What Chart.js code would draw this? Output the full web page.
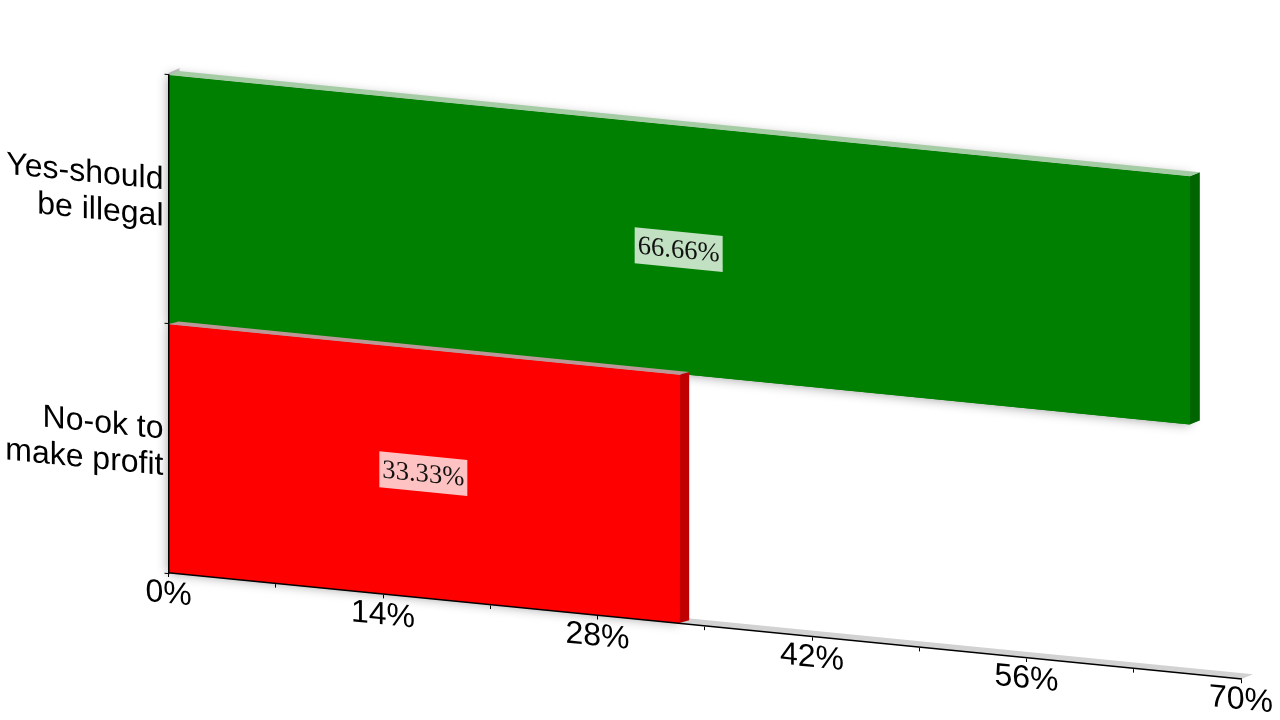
<!DOCTYPE html>
<html><head><meta charset="utf-8">
<style>html,body{margin:0;padding:0;background:#fff}canvas{display:block}</style>
<script src="https://cdn.jsdelivr.net/npm/chart.js@4/dist/chart.umd.min.js"></script>
</head><body><canvas id="c" width="1280" height="720"></canvas>
<script>
const categories = [['Yes-should','be illegal'],['No-ok to','make profit']];
const shares = [66.66, 33.33];
const frontColors = ['#008000','#ff0000'];
const sideColors = ['#006400','#c00000'];
const topColors = ['#a6cca6','#bd9797'];
const labelledTicks = [0,14,28,42,56,70];
const markedTicks = [0,7,14,21,28,35,42,49,56,63,70];

const SHEAR = 0.099, ORIGIN_X = 168;
const depth = (dx, dyScreen) => [dx, dyScreen - SHEAR * dx];

function poly(ctx, pts, fill){
  ctx.beginPath();
  pts.forEach((p,i)=> i ? ctx.lineTo(p[0],p[1]) : ctx.moveTo(p[0],p[1]));
  ctx.closePath(); ctx.fillStyle = fill; ctx.fill();
}

const shearPlugin = {
  id:'shear',
  beforeDraw(chart){
    const c = chart.ctx; c.save();
    c.transform(1, SHEAR, 0, 1, 0, -SHEAR*ORIGIN_X);
  },
  afterDraw(chart){ chart.ctx.restore(); }
};

const solidPlugin = {
  id:'solid',
  beforeDatasetsDraw(chart){
    const c = chart.ctx, a = chart.chartArea;
    const [fx,fy] = depth(12,-5), [wx,wy] = depth(11,-5);
    poly(c, [[a.left,a.bottom],[a.left+fx,a.bottom+fy],[a.right+fx,a.bottom+fy],[a.right,a.bottom]], '#d2d2d2');
    poly(c, [[a.left,a.top-1.5],[a.left+wx,a.top-1.5+wy],[a.left+wx,a.bottom+wy],[a.left,a.bottom]], '#c8c8c8');
    c.save();
    c.shadowColor='rgba(0,0,0,0.4)'; c.shadowBlur=12;
    chart.getDatasetMeta(0).data.forEach((b,i)=>{
      const t=b.y-b.height/2;
      c.fillStyle=frontColors[i];
      c.fillRect(a.left,t,b.x-a.left,b.height);
    });
    c.restore();
  },
  afterDatasetsDraw(chart){
    const c = chart.ctx, a = chart.chartArea;
    chart.getDatasetMeta(0).data.forEach((b,i)=>{
      const [dx,dy] = depth(10, i===0 ? -4 : -2.8);
      const t=b.y-b.height/2, e=b.y+b.height/2;
      poly(c, [[b.x,t],[b.x+dx,t+dy],[b.x+dx,e+dy],[b.x,e]], sideColors[i]);
      poly(c, [[a.left,t],[a.left+dx,t+dy],[b.x+dx,t+dy],[b.x,t]], topColors[i]);
    });
    c.font='26.6px "Liberation Serif"';
    c.textAlign='center'; c.textBaseline='middle';
    chart.getDatasetMeta(0).data.forEach((b,i)=>{
      const cx=(a.left+b.x)/2, txt=shares[i]+'%';
      c.fillStyle='rgba(255,255,255,0.76)';
      c.fillRect(cx-44.5,b.y-18,88,36);
      c.fillStyle='#111';
      c.fillText(txt,cx-0.5,b.y+1);
    });
  }
};

new Chart(document.getElementById('c'),{
  type:'bar',
  data:{labels:categories,datasets:[{data:shares,backgroundColor:frontColors,borderWidth:0,barPercentage:0.996,categoryPercentage:1}]},
  plugins:[shearPlugin,solidPlugin],
  options:{
    indexAxis:'y',responsive:false,animation:false,devicePixelRatio:1,
    layout:{padding:{left:0,top:74.5,right:39,bottom:0}},
    plugins:{legend:{display:false},title:{display:false},tooltip:{enabled:false}},
    scales:{
      x:{min:0,max:70,
        afterFit(s){s.height=147;},
        afterBuildTicks(s){s.ticks=markedTicks.map(v=>({value:v}));},
        border:{color:'#000',width:1.5,z:1},
        grid:{drawOnChartArea:false,drawTicks:true,tickLength:4,tickWidth:1,tickColor:'#000'},
        ticks:{autoSkip:false,maxRotation:0,minRotation:0,padding:-2,color:'#000',
          font:{family:'"Liberation Sans"',size:32},
          callback:v=>labelledTicks.includes(v)?v+'%':''}
      },
      y:{
        afterFit(s){s.width=168.5;},
        border:{color:'#000',width:1.5,z:1},
        grid:{offset:true,drawOnChartArea:false,drawTicks:true,tickLength:4,tickWidth:1,tickColor:'#000'},
        ticks:{padding:1,color:'#000',autoSkip:false,font:{family:'"Liberation Sans"',size:32,lineHeight:1.14}}
      }
    }
  }
});
</script></body></html>
